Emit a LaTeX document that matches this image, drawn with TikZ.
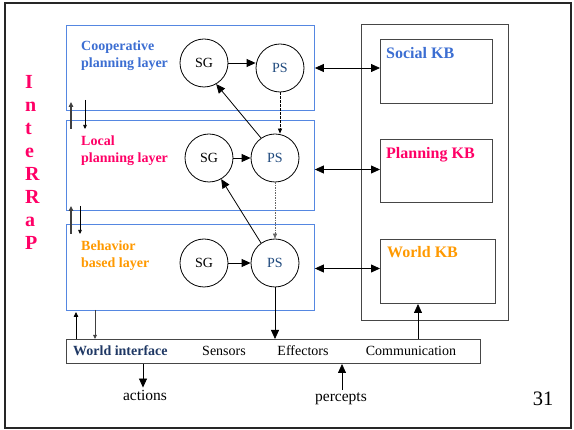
\documentclass[tikz,border=0pt]{standalone}
\usepackage{fontspec}
\setmainfont{Liberation Serif}
\usetikzlibrary{arrows.meta,calc}
\definecolor{coopblue}{RGB}{60,110,210}
\definecolor{hotpink}{RGB}{255,0,102}
\definecolor{behorange}{RGB}{255,153,0}
\definecolor{psnavy}{RGB}{31,73,125}
\definecolor{winavy}{RGB}{31,56,100}
\definecolor{layerline}{RGB}{85,135,225}
\definecolor{boxline}{RGB}{70,70,70}

\begin{document}
\begin{tikzpicture}[x=1pt,y=-1pt,
  layer/.style={draw=layerline, line width=0.9pt, rectangle, inner sep=0pt, anchor=north west},
  kbbox/.style={draw=boxline, line width=1pt, rectangle, inner sep=0pt, anchor=north west},
  proc/.style={draw, circle, line width=0.8pt, minimum size=48pt, inner sep=0pt, font=\fontsize{14}{16}\selectfont},
  layertext/.style={align=left, anchor=north west, inner sep=0pt, font=\fontsize{14}{17}\selectfont\bfseries},
  kbtext/.style={anchor=base west, inner sep=0pt, font=\fontsize{16}{18}\selectfont\bfseries},
  witext/.style={anchor=base, inner sep=0pt, font=\fontsize{14}{16}\selectfont},
  arr/.style={line width=0.8pt, -{Triangle[length=9pt,width=8pt]}},
  biarr/.style={line width=0.8pt, {Triangle[length=9pt,width=8pt]}-{Triangle[length=9pt,width=8pt]}},
  smallup/.style={line width=1.1pt, draw=black!75, -{Triangle[length=5pt,width=4.5pt]}},
  smalldown/.style={line width=0.6pt, -{Triangle[length=4pt,width=3.5pt]}},
  dasharr/.style={line width=0.7pt, dash pattern=on 2.5pt off 1.5pt, -{Triangle[length=5pt,width=4pt]}}
]
\useasboundingbox (0,0) rectangle (574,430);
% slide frame
\draw[line width=1.6pt, draw=black!85] (5,3) rectangle (571,428);

% InteRRaP, set letter by letter down the left edge
\foreach \ch [count=\i] in {I,n,t,e,R,R,a,P}
  \node[anchor=base west, inner sep=0pt, text=hotpink, font=\fontsize{20}{22}\selectfont\bfseries] (ir\i) at (25,66.1+22.9*\i) {\ch};

% the three layers
\node[layer, minimum width=248pt, minimum height=85pt] (coop) at (66,25) {};
\node[layer, minimum width=248pt, minimum height=90pt] (local) at (66,120) {};
\node[layer, minimum width=248pt, minimum height=86pt] (behav) at (66,224) {};

\node[layertext, text=coopblue] (coopL) at (81,40.3) {Cooperative\\planning layer};
\node[layertext, text=hotpink] (localL) at (81,135.3) {Local\\planning layer};
\node[layertext, text=behorange] (behavL) at (81,240.3) {Behavior\\based layer};

% situation recognition / goal activation and planning / scheduling
\node[proc] (sg1) at (204,63) {SG};
\node[proc, text=psnavy] (ps1) at (280,68) {PS};
\node[proc] (sg2) at (209,158) {SG};
\node[proc, text=psnavy] (ps2) at (275,158) {PS};
\node[proc] (sg3) at (204,263) {SG};
\node[proc, text=psnavy] (ps3) at (275,263) {PS};

\draw[arr] (sg1.east) -- (sg1.east -| ps1.west);
\draw[arr] (sg2) -- (ps2);
\draw[arr] (sg3) -- (ps3);

\draw[arr] (ps2.125) -- (sg1.-60);
\draw[arr] (ps3.125) -- (sg2.-60);

\draw[dasharr] (ps1.south) -- (ps1.south |- ps2.north);
\draw[dasharr, draw=black!60, line width=0.5pt, dash pattern=on 1.5pt off 1pt] (ps2.south) -- (ps3.north);

% knowledge base
\node[kbbox, minimum width=147pt, minimum height=296pt] (kb) at (361,24) {};
\node[kbbox, minimum width=112pt, minimum height=64pt] (social) at (380,39) {};
\node[kbbox, minimum width=112pt, minimum height=63pt] (planning) at (380,139) {};
\node[kbbox, minimum width=115pt, minimum height=64pt] (world) at (380,239) {};

\node[kbtext, text=coopblue] (socialL) at (386,58.3) {Social KB};
\node[kbtext, text=hotpink] (planningL) at (386,158.7) {Planning KB};
\node[kbtext, text=behorange] (worldL) at (387,258) {World KB};

\draw[biarr] (coop.east |- ps1) -- (social.west |- ps1);
\draw[biarr] ([yshift=1.5pt]local.east |- planning.west) -- ([yshift=1.5pt]planning.west);
\draw[biarr] ([yshift=3pt]behav.east |- world.west) -- ([yshift=3pt]world.west);

% world interface
\node[kbbox, minimum width=414pt, minimum height=24pt] (wi) at (66,339) {};
\node[witext, text=winavy, font=\fontsize{14}{16}\selectfont\bfseries, anchor=base west] (wiL) at (73,356) {World interface};
\node[witext] (sensors) at (224,356) {Sensors};
\node[witext] (effectors) at (303,356) {Effectors};
\node[witext] (comm) at (411,356) {Communication};

\draw[arr] (ps3.south) -- (ps3.south |- wi.north);
\coordinate (commx) at (418,0);
\draw[arr] (wi.north -| commx) -- (world.south -| commx);

% control flow between layers
\coordinate (u1a) at (71,129); \coordinate (u1b) at (71,102);
\coordinate (d1a) at (85,100); \coordinate (d1b) at (85,129);
\coordinate (u2a) at (71,234); \coordinate (u2b) at (71,206);
\coordinate (d2a) at (80,206); \coordinate (d2b) at (80,234);
\coordinate (u3a) at (76,339); \coordinate (u3b) at (76,312);
\coordinate (d3a) at (95,310); \coordinate (d3b) at (95,339);
\draw[smallup] (u1a) -- (u1b);
\draw[smalldown] (d1a) -- (d1b);
\draw[smallup] (u2a) -- (u2b);
\draw[smalldown] (d2a) -- (d2b);
\draw[smallup, draw=black, line width=0.8pt] (u3a) -- (u3b);
\draw[smalldown, draw=black!75, line width=0.8pt] (d3a) -- (d3b);

% environment
\node[anchor=base, inner sep=3pt, font=\fontsize{15.5}{17}\selectfont] (actions) at (145,401) {actions};
\node[anchor=base, inner sep=3pt, font=\fontsize{15.5}{17}\selectfont] (percepts) at (341,402) {percepts};
\draw[arr] (wi.south -| 143,0) -- (actions.north -| 143,0);
\draw[arr] (percepts.north -| 342,0) -- (wi.south -| 342,0);

\node[anchor=base, inner sep=0pt, font=\fontsize{20.5}{22}\selectfont] (page) at (543,406) {31};
\end{tikzpicture}
\end{document}
